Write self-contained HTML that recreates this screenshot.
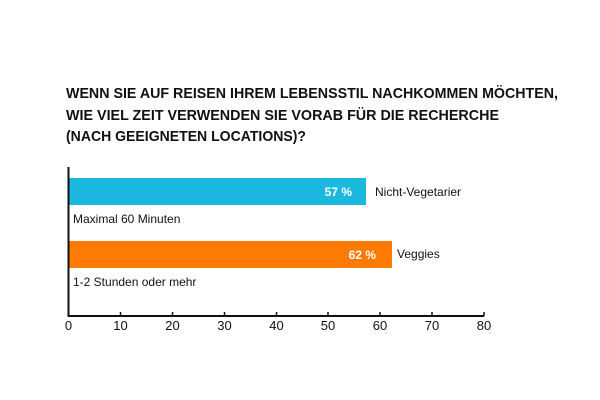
<!DOCTYPE html>
<html><head><meta charset="utf-8"><style>body{margin:0;background:#fff}svg{display:block}</style></head>
<body>
<svg width="600" height="400" xmlns="http://www.w3.org/2000/svg" font-family="Liberation Sans, sans-serif">
<g font-weight="bold" font-size="15" fill="#111">
<text x="66" y="98" textLength="492" lengthAdjust="spacingAndGlyphs">WENN SIE AUF REISEN IHREM LEBENSSTIL NACHKOMMEN MÖCHTEN,</text>
<text x="66" y="120" textLength="433" lengthAdjust="spacingAndGlyphs">WIE VIEL ZEIT VERWENDEN SIE VORAB FÜR DIE RECHERCHE</text>
<text x="66" y="141" textLength="240" lengthAdjust="spacingAndGlyphs">(NACH GEEIGNETEN LOCATIONS)?</text>
</g>
<rect x="69" y="178" width="297" height="27" fill="#1bb8e0"/>
<rect x="69" y="241" width="323" height="27" fill="#ff7a00"/>
<g font-size="12" font-weight="bold" fill="#fff" text-anchor="end">
<text x="352" y="196">57 %</text>
<text x="376" y="259">62 %</text>
</g>
<g font-size="12" fill="#111">
<text x="375" y="196">Nicht-Vegetarier</text>
<text x="397" y="258">Veggies</text>
<text x="73" y="223">Maximal 60 Minuten</text>
<text x="73" y="286">1-2 Stunden oder mehr</text>
</g>
<path d="M68.5 167V316H484" stroke="#111" stroke-width="2" fill="none"/>
<g stroke="#111" stroke-width="1.5">
<path d="M120.5 312v4M172.5 312v4M224.5 312v4M276.5 312v4M328 312v4M380 312v4M432 312v4M484 312v4"/>
</g>
<g font-size="13" fill="#111" text-anchor="middle">
<text x="68.5" y="330">0</text><text x="120.5" y="330">10</text><text x="172.5" y="330">20</text><text x="224.5" y="330">30</text><text x="276.5" y="330">40</text><text x="328" y="330">50</text><text x="380" y="330">60</text><text x="432" y="330">70</text><text x="484" y="330">80</text>
</g>
</svg>
</body></html>
